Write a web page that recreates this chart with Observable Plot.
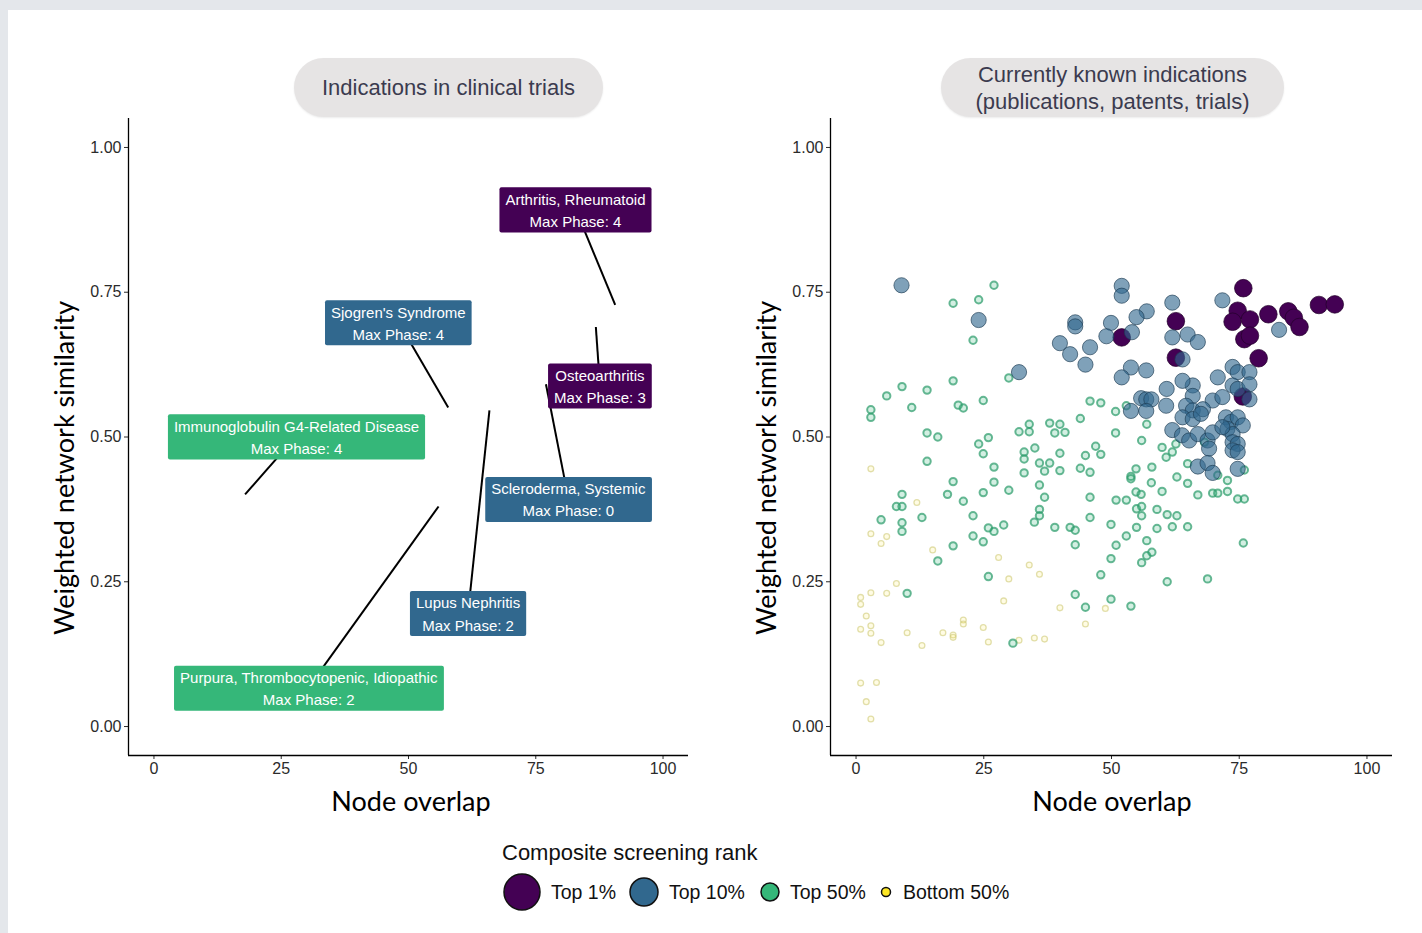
<!DOCTYPE html>
<html>
<head>
<meta charset="utf-8">
<script src="https://cdn.jsdelivr.net/npm/d3@7"></script>
<script src="https://cdn.jsdelivr.net/npm/@observablehq/plot@0.6"></script>
<style>
  body { margin:0; background:#e4e7eb; width:1422px; height:933px; overflow:hidden; font-family:"Liberation Sans", Arial, sans-serif; }
  .abs { position:absolute; }
  .pill { position:absolute; background:#e6e4e4; border-radius:30px; color:#3b3b4f; font-size:22px; line-height:27px; display:flex; align-items:center; justify-content:center; text-align:center; box-shadow:0 1px 2px rgba(0,0,0,0.08); }
  .ylab { position:absolute; transform:translate(-50%,-50%) rotate(-90deg); white-space:nowrap; font-family:Lato, "Open Sans", sans-serif; font-size:27px; color:#000; }
  .xlab { position:absolute; transform:translate(-50%,-50%); white-space:nowrap; font-family:Lato, "Open Sans", sans-serif; font-size:27px; color:#000; }
</style>
</head>
<body>
<div class="abs" style="left:8px;top:10px;width:1414px;height:923px;background:#fff;"></div>
<div class="pill" style="left:294px;top:58px;width:309px;height:59px;">Indications in clinical trials</div>
<div class="pill" style="left:941px;top:58px;width:343px;height:59px;">Currently known indications<br>(publications, patents, trials)</div>
<div id="left" class="abs" style="left:0px;top:100px;"></div>
<div id="right" class="abs" style="left:711px;top:100px;"></div>
<div class="ylab" style="left:63px;top:468px;">Weighted network similarity</div>
<div class="ylab" style="left:765px;top:468px;">Weighted network similarity</div>
<div class="xlab" style="left:411px;top:800px;">Node overlap</div>
<div class="xlab" style="left:1112px;top:800px;">Node overlap</div>
<div id="legend" class="abs" style="left:480px;top:830px;"></div>
<script>
// ---------- data ----------
const xTicks = [0, 25, 50, 75, 100];
const yTicks = [0, 0.25, 0.5, 0.75, 1];
const rankNames = ["Top 1%", "Top 10%", "Top 50%", "Bottom 50%"];
const rankColors = ["#440154", "#31688e", "#35b779", "#fde725"];

// left panel: indications in clinical trials
const labelNames = ["Arthritis, Rheumatoid", "Sjogren's Syndrome", "Osteoarthritis", "Scleroderma, Systemic",
  "Immunoglobulin G4-Related Disease", "Lupus Nephritis", "Purpura, Thrombocytopenic, Idiopathic"];
const labelPhases = [4, 4, 3, 0, 4, 2, 2];
const labelRanks = ["Top 1%", "Top 10%", "Top 1%", "Top 10%", "Top 50%", "Top 10%", "Top 50%"];
const pointX = [90.6, 57.8, 86.8, 77.0, 17.9, 65.9, 55.9];
const pointY = [0.728, 0.551, 0.690, 0.591, 0.401, 0.546, 0.380];
const labelX = [82.8, 48.0, 87.6, 81.4, 28.0, 61.7, 30.4];
const labelY = [0.894, 0.699, 0.590, 0.394, 0.502, 0.197, 0.068];

// right panel: currently known indications, [node overlap, weighted similarity]
const top1 = [[52.0,0.672],[62.6,0.700],[62.6,0.637],[75.8,0.757],[74.7,0.718],[73.7,0.699],[77.1,0.703],[76.0,0.669],
  [77.1,0.675],[80.7,0.712],[84.6,0.717],[85.7,0.706],[86.8,0.690],[90.6,0.728],[93.7,0.729],[78.8,0.636],[75.7,0.570]];
const top10 = [[8.9,0.762],[24.0,0.702],[31.9,0.612],[52.0,0.761],[52.0,0.744],[61.9,0.732],[56.9,0.717],[54.9,0.707],
  [42.9,0.698],[42.9,0.691],[49.9,0.697],[54.0,0.681],[49.0,0.674],[39.9,0.662],[45.8,0.655],[41.9,0.643],[44.9,0.625],
  [53.8,0.620],[56.8,0.615],[52.0,0.603],[61.9,0.672],[60.8,0.583],[55.8,0.567],[56.8,0.565],[57.8,0.565],[53.8,0.545],
  [56.8,0.545],[60.7,0.554],[61.9,0.512],[71.7,0.736],[82.8,0.685],[64.9,0.677],[66.9,0.664],[63.9,0.634],[70.8,0.603],
  [73.7,0.621],[74.7,0.612],[77.0,0.612],[73.7,0.589],[74.7,0.583],[77.0,0.591],[77.0,0.565],[65.9,0.589],[65.9,0.571],
  [63.9,0.597],[69.8,0.563],[71.7,0.569],[64.6,0.554],[65.9,0.546],[67.9,0.548],[63.9,0.534],[65.9,0.531],[67.5,0.540],
  [72.4,0.534],[73.4,0.526],[74.7,0.534],[75.7,0.520],[72.7,0.514],[73.7,0.505],[63.8,0.503],[65.2,0.494],[66.9,0.505],
  [68.8,0.494],[69.8,0.508],[71.7,0.517],[69.1,0.480],[73.7,0.491],[74.7,0.488],[73.7,0.477],[74.7,0.474],[66.9,0.449],
  [68.8,0.455],[69.8,0.438],[74.7,0.445]];
const top50 = [[27.0,0.762],[19.0,0.731],[24.0,0.737],[22.9,0.667],[29.9,0.602],[19.0,0.597],[9.0,0.587],[13.9,0.581],
  [6.0,0.571],[24.9,0.563],[2.9,0.547],[2.9,0.534],[10.9,0.551],[20.0,0.555],[21.0,0.550],[13.9,0.507],[16.0,0.500],
  [25.9,0.499],[24.0,0.488],[24.9,0.471],[13.9,0.458],[27.0,0.448],[19.0,0.423],[27.0,0.422],[9.0,0.401],[17.9,0.401],
  [24.9,0.404],[29.9,0.408],[21.0,0.389],[7.9,0.380],[9.0,0.380],[4.9,0.357],[9.0,0.352],[9.0,0.337],[12.9,0.361],
  [22.9,0.364],[25.9,0.343],[27.0,0.337],[28.9,0.348],[22.9,0.329],[24.9,0.319],[19.0,0.312],[16.0,0.286],[25.9,0.259],
  [10.0,0.230],[30.7,0.144],[45.8,0.562],[47.9,0.559],[43.9,0.532],[50.8,0.544],[52.9,0.554],[33.9,0.522],[33.9,0.509],
  [31.9,0.509],[37.9,0.524],[39.9,0.522],[38.9,0.507],[40.9,0.508],[50.8,0.507],[56.9,0.522],[55.9,0.494],[35.0,0.481],
  [32.9,0.474],[32.9,0.462],[39.9,0.472],[46.9,0.484],[47.9,0.470],[44.9,0.468],[35.9,0.455],[37.9,0.455],[36.9,0.441],
  [39.9,0.442],[32.9,0.438],[43.9,0.446],[45.8,0.439],[54.8,0.445],[53.8,0.432],[53.8,0.428],[57.9,0.448],[59.9,0.482],
  [61.9,0.474],[60.7,0.465],[62.6,0.488],[35.9,0.417],[36.9,0.396],[45.8,0.396],[57.8,0.421],[54.8,0.405],[55.8,0.401],
  [59.9,0.406],[62.8,0.431],[50.9,0.391],[52.9,0.391],[35.9,0.375],[35.9,0.364],[34.9,0.353],[38.9,0.344],[41.9,0.344],
  [42.9,0.339],[45.8,0.361],[42.9,0.314],[49.9,0.349],[54.9,0.376],[55.9,0.380],[58.9,0.375],[60.9,0.366],[62.8,0.364],
  [55.9,0.364],[54.9,0.344],[58.9,0.342],[61.9,0.345],[52.9,0.329],[50.9,0.313],[56.9,0.321],[49.9,0.290],[57.9,0.301],
  [56.9,0.295],[55.9,0.283],[47.9,0.262],[60.9,0.250],[42.9,0.228],[49.9,0.220],[44.9,0.206],[53.8,0.208],[69.8,0.403],
  [70.8,0.403],[72.7,0.406],[74.7,0.393],[76.0,0.393],[66.9,0.400],[64.9,0.420],[72.7,0.425],[70.8,0.434],[64.9,0.454],
  [76.0,0.443],[68.2,0.491],[64.9,0.345],[75.8,0.317],[68.8,0.255]];
const bottom50 = [[2.9,0.445],[11.9,0.387],[2.9,0.333],[6.0,0.328],[4.9,0.316],[15.0,0.305],[27.9,0.292],[29.9,0.255],
  [7.9,0.247],[2.9,0.231],[6.0,0.230],[0.9,0.223],[0.9,0.211],[2.0,0.191],[2.9,0.174],[0.9,0.168],[2.9,0.161],[4.9,0.145],
  [10.0,0.162],[12.9,0.140],[17.0,0.162],[19.0,0.158],[19.0,0.154],[21.0,0.184],[21.0,0.177],[24.9,0.171],[25.9,0.146],
  [28.9,0.217],[0.9,0.075],[4.0,0.076],[2.0,0.043],[2.9,0.013],[33.9,0.279],[35.9,0.263],[39.9,0.205],[48.8,0.204],
  [44.9,0.177],[31.9,0.149],[34.9,0.153],[36.9,0.151]];

// ---------- helpers ----------
const colorOf = r => rankColors[rankNames.indexOf(r)];
const labels = labelNames.map((n, i) => ({
  name: n, phase: labelPhases[i], rank: labelRanks[i],
  px: pointX[i], py: pointY[i], lx: labelX[i], ly: labelY[i]
}));

function axes() {
  return [
    Plot.axisX({ticks: xTicks, tickSize: 4, tickPadding: 3, label: null, tickFormat: d3.format("d")}),
    Plot.axisY({ticks: yTicks, tickSize: 4, tickPadding: 3, label: null, tickFormat: d3.format(".2f")}),
    Plot.ruleX([-5], {stroke: "#000", strokeWidth: 1.3}),
    Plot.ruleY([-0.05], {stroke: "#000", strokeWidth: 1.3})
  ];
}
const common = {
  height: 730, marginTop: 18, marginBottom: 75,
  x: {domain: [-5, 105]}, y: {domain: [-0.05, 1.05]},
  style: {fontFamily: "'Liberation Sans', Arial, sans-serif", fontSize: "16px", color: "#2b2b2b", background: "transparent", overflow: "visible"}
};

// ---------- left panel ----------
const leftPlot = Plot.plot({
  ...common, width: 711, marginLeft: 128, marginRight: 23,
  marks: [
    ...axes(),
    Plot.link(labels, {x1: "lx", y1: "ly", x2: "px", y2: "py", stroke: "#000", strokeWidth: 2}),
    Plot.text(labels, {x: "lx", y: "ly", text: d => d.name + "\nMax Phase: " + d.phase,
      fill: "white", fontSize: 15, lineHeight: 1.47})
  ]
});
document.getElementById("left").appendChild(leftPlot);
{
  const g = leftPlot.querySelector('g[aria-label="text"]');
  g.querySelectorAll("text").forEach((t, i) => {
    const b = t.getBBox();
    const r = document.createElementNS("http://www.w3.org/2000/svg", "rect");
    r.setAttribute("x", b.x - 6);
    r.setAttribute("y", b.y - 3.5);
    r.setAttribute("width", b.width + 12);
    r.setAttribute("height", b.height + 6);
    r.setAttribute("rx", 2);
    r.setAttribute("fill", colorOf(labels[i].rank));
    r.setAttribute("stroke", "none");
    if (t.getAttribute("transform")) r.setAttribute("transform", t.getAttribute("transform"));
    g.insertBefore(r, g.firstChild);
  });
}

// ---------- right panel ----------
const rightPlot = Plot.plot({
  ...common, width: 711, marginLeft: 119, marginRight: 30,
  marks: [
    ...axes(),
    Plot.dot(bottom50, {x: d => d[0], y: d => d[1], r: 2.9, fill: "#fde725", fillOpacity: 0.12,
      stroke: "#cfc978", strokeOpacity: 0.6, strokeWidth: 1.3}),
    Plot.dot(top50, {x: d => d[0], y: d => d[1], r: 3.7, fill: "#35b779", fillOpacity: 0.22,
      stroke: "#2e9c6c", strokeOpacity: 0.72, strokeWidth: 2}),
    Plot.dot(top1, {x: d => d[0], y: d => d[1], r: 8.8, fill: "#440154", fillOpacity: 1,
      stroke: "#22002a", strokeOpacity: 0.7, strokeWidth: 1}),
    Plot.dot(top10, {x: d => d[0], y: d => d[1], r: 7.6, fill: "#31688e", fillOpacity: 0.62,
      stroke: "#1b3a52", strokeOpacity: 0.65, strokeWidth: 1})
  ]
});
document.getElementById("right").appendChild(rightPlot);

// ---------- legend ----------
const legendItems = [
  {name: rankNames[0], color: rankColors[0], r: 18, cx: 42, tx: 71},
  {name: rankNames[1], color: rankColors[1], r: 14, cx: 164, tx: 189},
  {name: rankNames[2], color: rankColors[2], r: 9, cx: 290, tx: 310},
  {name: rankNames[3], color: rankColors[3], r: 4.5, cx: 406, tx: 423}
];
const lg = d3.select("#legend").append("svg").attr("width", 560).attr("height", 100)
  .style("font-family", "'Liberation Sans', Arial, sans-serif");
lg.append("text").attr("x", 22).attr("y", 30).attr("font-size", 22).attr("fill", "#111").text("Composite screening rank");
const it = lg.selectAll("g.item").data(legendItems).join("g").attr("class", "item");
it.append("circle").attr("cx", d => d.cx).attr("cy", 62).attr("r", d => d.r)
  .attr("fill", d => d.color).attr("stroke", "#111").attr("stroke-width", 1.5);
it.append("text").attr("x", d => d.tx).attr("y", 62).attr("dy", "0.35em").attr("font-size", 19.5)
  .attr("fill", "#111").text(d => d.name);
</script>
</body>
</html>
